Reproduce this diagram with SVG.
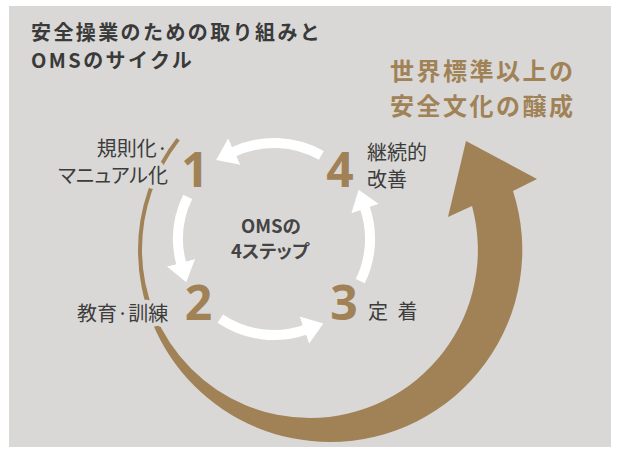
<svg xmlns="http://www.w3.org/2000/svg" width="620" height="462" viewBox="0 0 620 462">
<defs>
<style>
.bg{fill:#d9d8d6}
.gold{fill:#a08256}
.jp{font-family:"Noto Sans CJK JP","Noto Sans",sans-serif}
.title{font-size:20px;font-weight:bold;fill:#3a3a3a;letter-spacing:2.4px}
.big{font-size:24px;font-weight:bold;fill:#a08256;letter-spacing:2.5px}
.lbl{font-size:20px;fill:#3c3c3c;paint-order:stroke;stroke:#d9d8d6;stroke-width:8px;stroke-linejoin:round}
.palt{font-feature-settings:"palt"}
.ctr{font-size:18.5px;font-weight:bold;fill:#444;text-anchor:middle}
.num{font-family:"Open Sans","Liberation Sans",sans-serif;font-size:48px;font-weight:bold;fill:#a08256;text-anchor:middle}
.warc{fill:none;stroke:#fff;stroke-width:10;marker-end:url(#wh)}
</style>
<marker id="wh" markerUnits="userSpaceOnUse" markerWidth="22" markerHeight="32" viewBox="0 -16 22 32" refX="1" refY="0" orient="auto">
<path d="M0,-14.5 L20,0 L0,14.5 Z" fill="#fff"/>
</marker>
</defs>
<rect class="bg" x="9" y="6" width="602" height="441"/>
<g id="title">
<text class="jp title" x="31" y="40">安全操業のための取り組みと<tspan x="31" y="68">OMSのサイクル</tspan></text>
</g>
<g id="culture">
<text class="jp big" x="390" y="80">世界標準以上の<tspan x="390" y="115">安全文化の醸成</tspan></text>
</g>
<g id="connectors">
<path id="spiral" class="gold" d="M176.6,137.9 A182,182 0 0 0 138,250 A192,192 0 0 0 330,442 A192,192 0 0 0 513,191 L537,179 L466,141 L448,217 L472,206 A168,168 0 0 1 310,418 A168,168 0 0 1 142,250 A178,178 0 0 1 179.7,140.4 Z"/>
<path class="warc" d="M321.3,155.4 A96,96 0 0 0 233.4,152.0"/>
<path class="warc" d="M187.7,196.9 A96,96 0 0 0 181.3,263.8"/>
<path class="warc" d="M220.3,318.6 A96,96 0 0 0 305.3,329.8"/>
<path class="warc" d="M360.3,281.1 A96,96 0 0 0 364.8,207.7"/>
</g>
<g id="center">
<text class="jp ctr" x="271" y="233">OMSの<tspan class="palt" x="270" y="258">4ステップ</tspan></text>
</g>
<g id="step1">
<text class="num" x="195" y="187">1</text>
<text class="jp lbl" x="168" y="156" text-anchor="end">規則化·<tspan class="palt" x="168" y="183">マニュアル化</tspan></text>
</g>
<g id="step2">
<text class="num" x="198.5" y="320">2</text>
<text class="jp lbl" x="77" y="321">教育·訓練</text>
</g>
<g id="step3">
<text class="num" x="344" y="320">3</text>
<text class="jp lbl" x="368" y="319" letter-spacing="2.5">定 着</text>
</g>
<g id="step4">
<text class="num" x="340" y="187">4</text>
<text class="jp lbl" x="367" y="160">継続的<tspan x="367" y="187">改善</tspan></text>
</g>
</svg>
